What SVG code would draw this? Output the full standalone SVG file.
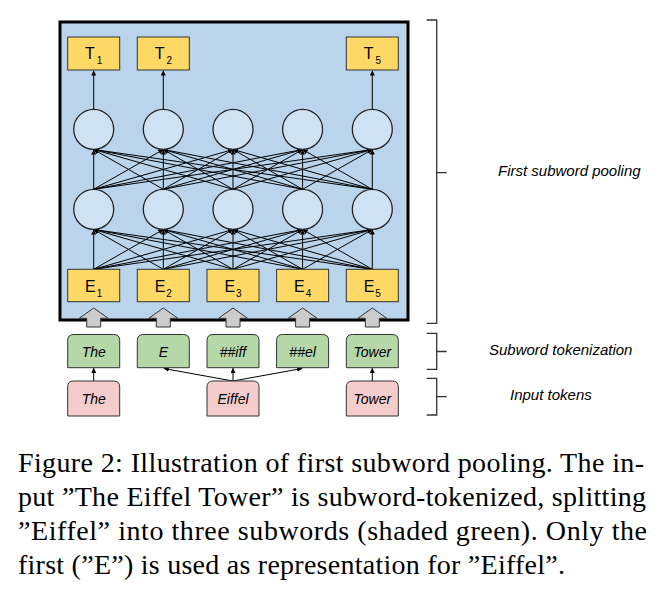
<svg xmlns="http://www.w3.org/2000/svg" width="662" height="602" viewBox="0 0 662 602">
<defs>
<marker id="ah" viewBox="0 0 10 10" refX="10" refY="5" markerWidth="5" markerHeight="5" markerUnits="userSpaceOnUse" orient="auto"><path d="M0,0 L10,5 L0,10 Z" fill="#000"/></marker>
<style>
.frame{fill:#bad4ec;stroke:#000;stroke-width:3}
.yb{fill:#ffd966;stroke:#333;stroke-width:1}
.cir{fill:#cfe2f3;stroke:#222;stroke-width:1.3}
.gb{fill:#b6d7a8;stroke:#333;stroke-width:1}
.pb{fill:#f4cccc;stroke:#333;stroke-width:1}
.ga{fill:#cccccc;stroke:#333;stroke-width:1}
.ln{stroke:#000;stroke-width:1;fill:none;marker-end:url(#ah)}
.br{stroke:#333;stroke-width:1.3;fill:none}
.lbl{font-family:"Liberation Sans",Arial,sans-serif;font-size:16px;fill:#000;text-anchor:middle}
.sub{font-size:10px}
.tok{font-family:"Liberation Sans",Arial,sans-serif;font-style:italic;font-size:14px;fill:#000;text-anchor:middle}
.side{font-family:"Liberation Sans",Arial,sans-serif;font-style:italic;font-size:15px;fill:#000}
.cap{font-family:"Liberation Serif","Times New Roman",serif;font-size:28px;fill:#000}
</style>
</defs>
<rect class="frame" x="60" y="22" width="348" height="298"/>
<g id="connectors">
<line class="ln" x1="93.7" y1="109.3" x2="93.7" y2="70.5"/>
<line class="ln" x1="163.3" y1="109.3" x2="163.3" y2="70.5"/>
<line class="ln" x1="372.3" y1="109.3" x2="372.3" y2="70.5"/>
<line class="ln" x1="93.7" y1="189.3" x2="93.7" y2="149.5"/>
<line class="ln" x1="93.7" y1="189.3" x2="163.3" y2="149.5"/>
<line class="ln" x1="93.7" y1="189.3" x2="233" y2="149.5"/>
<line class="ln" x1="93.7" y1="189.3" x2="302.6" y2="149.5"/>
<line class="ln" x1="93.7" y1="189.3" x2="372.3" y2="149.5"/>
<line class="ln" x1="163.3" y1="189.3" x2="93.7" y2="149.5"/>
<line class="ln" x1="163.3" y1="189.3" x2="163.3" y2="149.5"/>
<line class="ln" x1="163.3" y1="189.3" x2="233" y2="149.5"/>
<line class="ln" x1="163.3" y1="189.3" x2="302.6" y2="149.5"/>
<line class="ln" x1="163.3" y1="189.3" x2="372.3" y2="149.5"/>
<line class="ln" x1="233" y1="189.3" x2="93.7" y2="149.5"/>
<line class="ln" x1="233" y1="189.3" x2="163.3" y2="149.5"/>
<line class="ln" x1="233" y1="189.3" x2="233" y2="149.5"/>
<line class="ln" x1="233" y1="189.3" x2="302.6" y2="149.5"/>
<line class="ln" x1="233" y1="189.3" x2="372.3" y2="149.5"/>
<line class="ln" x1="302.6" y1="189.3" x2="93.7" y2="149.5"/>
<line class="ln" x1="302.6" y1="189.3" x2="163.3" y2="149.5"/>
<line class="ln" x1="302.6" y1="189.3" x2="233" y2="149.5"/>
<line class="ln" x1="302.6" y1="189.3" x2="302.6" y2="149.5"/>
<line class="ln" x1="302.6" y1="189.3" x2="372.3" y2="149.5"/>
<line class="ln" x1="372.3" y1="189.3" x2="93.7" y2="149.5"/>
<line class="ln" x1="372.3" y1="189.3" x2="163.3" y2="149.5"/>
<line class="ln" x1="372.3" y1="189.3" x2="233" y2="149.5"/>
<line class="ln" x1="372.3" y1="189.3" x2="302.6" y2="149.5"/>
<line class="ln" x1="372.3" y1="189.3" x2="372.3" y2="149.5"/>
<line class="ln" x1="93.7" y1="269.3" x2="93.7" y2="229.5"/>
<line class="ln" x1="93.7" y1="269.3" x2="163.3" y2="229.5"/>
<line class="ln" x1="93.7" y1="269.3" x2="233" y2="229.5"/>
<line class="ln" x1="93.7" y1="269.3" x2="302.6" y2="229.5"/>
<line class="ln" x1="93.7" y1="269.3" x2="372.3" y2="229.5"/>
<line class="ln" x1="163.3" y1="269.3" x2="93.7" y2="229.5"/>
<line class="ln" x1="163.3" y1="269.3" x2="163.3" y2="229.5"/>
<line class="ln" x1="163.3" y1="269.3" x2="233" y2="229.5"/>
<line class="ln" x1="163.3" y1="269.3" x2="302.6" y2="229.5"/>
<line class="ln" x1="163.3" y1="269.3" x2="372.3" y2="229.5"/>
<line class="ln" x1="233" y1="269.3" x2="93.7" y2="229.5"/>
<line class="ln" x1="233" y1="269.3" x2="163.3" y2="229.5"/>
<line class="ln" x1="233" y1="269.3" x2="233" y2="229.5"/>
<line class="ln" x1="233" y1="269.3" x2="302.6" y2="229.5"/>
<line class="ln" x1="233" y1="269.3" x2="372.3" y2="229.5"/>
<line class="ln" x1="302.6" y1="269.3" x2="93.7" y2="229.5"/>
<line class="ln" x1="302.6" y1="269.3" x2="163.3" y2="229.5"/>
<line class="ln" x1="302.6" y1="269.3" x2="233" y2="229.5"/>
<line class="ln" x1="302.6" y1="269.3" x2="302.6" y2="229.5"/>
<line class="ln" x1="302.6" y1="269.3" x2="372.3" y2="229.5"/>
<line class="ln" x1="372.3" y1="269.3" x2="93.7" y2="229.5"/>
<line class="ln" x1="372.3" y1="269.3" x2="163.3" y2="229.5"/>
<line class="ln" x1="372.3" y1="269.3" x2="233" y2="229.5"/>
<line class="ln" x1="372.3" y1="269.3" x2="302.6" y2="229.5"/>
<line class="ln" x1="372.3" y1="269.3" x2="372.3" y2="229.5"/>
<line class="ln" x1="93.7" y1="381" x2="93.7" y2="368"/>
<line class="ln" x1="233" y1="381" x2="163.8" y2="368.5"/>
<line class="ln" x1="233" y1="381" x2="233" y2="368"/>
<line class="ln" x1="233" y1="381" x2="302.2" y2="368.5"/>
<line class="ln" x1="372.3" y1="381" x2="372.3" y2="368"/>
<path class="br" d="M426.7,20 H436.7 V323.3 H426.7 M436.7,172.7 H446.7"/>
<path class="br" d="M426.7,333.3 H436.7 V369.3 H426.7 M436.7,351.5 H446.7"/>
<path class="br" d="M426.7,378.3 H436.7 V415 H426.7 M436.7,396.7 H446.7"/>
</g>
<g id="T1"><rect class="yb" x="67.7" y="37" width="52" height="33"/><text class="lbl" x="93.7" y="59">T<tspan class="sub" dx="2" dy="5">1</tspan></text></g>
<g id="T2"><rect class="yb" x="137.3" y="37" width="52" height="33"/><text class="lbl" x="163.3" y="59">T<tspan class="sub" dx="2" dy="5">2</tspan></text></g>
<g id="T5"><rect class="yb" x="346.3" y="37" width="52" height="33"/><text class="lbl" x="372.3" y="59">T<tspan class="sub" dx="2" dy="5">5</tspan></text></g>
<g id="h2_1"><circle class="cir" cx="93.7" cy="129.3" r="20"/></g>
<g id="h2_2"><circle class="cir" cx="163.3" cy="129.3" r="20"/></g>
<g id="h2_3"><circle class="cir" cx="233" cy="129.3" r="20"/></g>
<g id="h2_4"><circle class="cir" cx="302.6" cy="129.3" r="20"/></g>
<g id="h2_5"><circle class="cir" cx="372.3" cy="129.3" r="20"/></g>
<g id="h1_1"><circle class="cir" cx="93.7" cy="209.3" r="20"/></g>
<g id="h1_2"><circle class="cir" cx="163.3" cy="209.3" r="20"/></g>
<g id="h1_3"><circle class="cir" cx="233" cy="209.3" r="20"/></g>
<g id="h1_4"><circle class="cir" cx="302.6" cy="209.3" r="20"/></g>
<g id="h1_5"><circle class="cir" cx="372.3" cy="209.3" r="20"/></g>
<g id="E1"><rect class="yb" x="67.7" y="269.3" width="52" height="32.4"/><text class="lbl" x="93.7" y="291.7">E<tspan class="sub" dx="1" dy="5">1</tspan></text></g>
<g id="E2"><rect class="yb" x="137.3" y="269.3" width="52" height="32.4"/><text class="lbl" x="163.3" y="291.7">E<tspan class="sub" dx="1" dy="5">2</tspan></text></g>
<g id="E3"><rect class="yb" x="207" y="269.3" width="52" height="32.4"/><text class="lbl" x="233" y="291.7">E<tspan class="sub" dx="1" dy="5">3</tspan></text></g>
<g id="E4"><rect class="yb" x="276.6" y="269.3" width="52" height="32.4"/><text class="lbl" x="302.6" y="291.7">E<tspan class="sub" dx="1" dy="5">4</tspan></text></g>
<g id="E5"><rect class="yb" x="346.3" y="269.3" width="52" height="32.4"/><text class="lbl" x="372.3" y="291.7">E<tspan class="sub" dx="1" dy="5">5</tspan></text></g>
<g id="up1"><path class="ga" transform="translate(93.7,0)" d="M0,308 L14.5,318.3 L7,318.3 L7,327 L-7,327 L-7,318.3 L-14.5,318.3 Z"/></g>
<g id="up2"><path class="ga" transform="translate(163.3,0)" d="M0,308 L14.5,318.3 L7,318.3 L7,327 L-7,327 L-7,318.3 L-14.5,318.3 Z"/></g>
<g id="up3"><path class="ga" transform="translate(233,0)" d="M0,308 L14.5,318.3 L7,318.3 L7,327 L-7,327 L-7,318.3 L-14.5,318.3 Z"/></g>
<g id="up4"><path class="ga" transform="translate(302.6,0)" d="M0,308 L14.5,318.3 L7,318.3 L7,327 L-7,327 L-7,318.3 L-14.5,318.3 Z"/></g>
<g id="up5"><path class="ga" transform="translate(372.3,0)" d="M0,308 L14.5,318.3 L7,318.3 L7,327 L-7,327 L-7,318.3 L-14.5,318.3 Z"/></g>
<g id="sw1"><path class="gb" d="M67.7,367.7 V340.5 Q67.7,334.5 73.7,334.5 H113.7 Q119.7,334.5 119.7,340.5 V367.7 Z"/><text class="tok" x="93.7" y="356.7">The</text></g>
<g id="sw2"><path class="gb" d="M137.3,367.7 V340.5 Q137.3,334.5 143.3,334.5 H183.3 Q189.3,334.5 189.3,340.5 V367.7 Z"/><text class="tok" x="163.3" y="356.7">E</text></g>
<g id="sw3"><path class="gb" d="M207,367.7 V340.5 Q207,334.5 213,334.5 H253 Q259,334.5 259,340.5 V367.7 Z"/><text class="tok" x="233" y="356.7">##iff</text></g>
<g id="sw4"><path class="gb" d="M276.6,367.7 V340.5 Q276.6,334.5 282.6,334.5 H322.6 Q328.6,334.5 328.6,340.5 V367.7 Z"/><text class="tok" x="302.6" y="356.7">##el</text></g>
<g id="sw5"><path class="gb" d="M346.3,367.7 V340.5 Q346.3,334.5 352.3,334.5 H392.3 Q398.3,334.5 398.3,340.5 V367.7 Z"/><text class="tok" x="372.3" y="356.7">Tower</text></g>
<g id="in1"><path class="pb" d="M67.7,416 V387 Q67.7,381 73.7,381 H113.7 Q119.7,381 119.7,387 V416 Z"/><text class="tok" x="93.7" y="404.3">The</text></g>
<g id="in2"><path class="pb" d="M207,416 V387 Q207,381 213,381 H253 Q259,381 259,387 V416 Z"/><text class="tok" x="233" y="404.3">Eiffel</text></g>
<g id="in3"><path class="pb" d="M346.3,416 V387 Q346.3,381 352.3,381 H392.3 Q398.3,381 398.3,387 V416 Z"/><text class="tok" x="372.3" y="404.3">Tower</text></g>
<text class="side" x="498" y="175.5">First subword pooling</text>
<text class="side" x="489" y="354.5">Subword tokenization</text>
<text class="side" x="510" y="400">Input tokens</text>
<text class="cap" x="18" y="472" textLength="626" lengthAdjust="spacing">Figure 2: Illustration of first subword pooling. The in-</text>
<text class="cap" x="18" y="506" textLength="628" lengthAdjust="spacing">put ”The Eiffel Tower” is subword-tokenized, splitting</text>
<text class="cap" x="18" y="540" textLength="629" lengthAdjust="spacing">”Eiffel” into three subwords (shaded green). Only the</text>
<text class="cap" x="18" y="574" textLength="547" lengthAdjust="spacing">first (”E”) is used as representation for ”Eiffel”.</text>
</svg>
